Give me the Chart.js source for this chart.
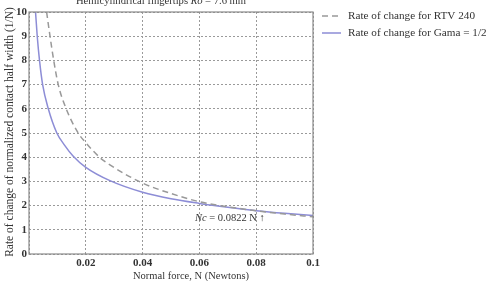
<!DOCTYPE html>
<html>
<head>
<meta charset="utf-8">
<script src="https://cdn.jsdelivr.net/npm/chart.js@4.4.1/dist/chart.umd.min.js"></script>
<style>
html,body{margin:0;padding:0;background:#fff;}
#wrap{position:relative;width:498px;height:281px;}
</style>
</head>
<body>
<div id="wrap"><canvas id="c" width="498" height="281"></canvas></div>
<script>
// Data
const rtvForce = [0.0062, 0.0074, 0.0087, 0.0103, 0.0131, 0.0173, 0.02, 0.025, 0.0285, 0.04, 0.05, 0.06, 0.07, 0.08, 0.09, 0.1];
const rtvRate  = [10, 9, 8, 7, 6, 5, 4.6, 3.98, 3.68, 2.93, 2.5, 2.16, 1.95, 1.79, 1.65, 1.54];
const gamaForce = [0.0023, 0.0029, 0.0037, 0.0048, 0.0068, 0.0098, 0.0125, 0.0155, 0.02, 0.0285, 0.04, 0.05, 0.06, 0.07, 0.08, 0.09, 0.1];
const gamaRate  = [10, 9, 8, 7, 6, 5, 4.5, 4.05, 3.58, 3.03, 2.55, 2.28, 2.09, 1.93, 1.79, 1.68, 1.59];
const seriesNames = ["Rate of change for RTV 240", "Rate of change for Gama = 1/2"];
const xTickValues = [0.02, 0.04, 0.06, 0.08, 0.1];
const yTickValues = [0,1,2,3,4,5,6,7,8,9,10];

const SERIF = "'Liberation Serif','Times New Roman',serif";
const toPts = (xs, ys) => xs.map((x,i)=>({x:x, y:ys[i]}));

const extras = {
  id:'extras',
  afterDraw(chart){
    const ctx = chart.ctx, a = chart.chartArea;
    ctx.save();
    // frame
    ctx.strokeStyle = '#8a8a8a'; ctx.lineWidth = 1.2; ctx.setLineDash([]);
    ctx.strokeRect(a.left, a.top, a.right-a.left, a.bottom-a.top);
    // title with italic Ro
    const parts = [["Hemicylindrical fingertips ", ""], ["Ro", "italic "], [" = 7.6 mm", ""]];
    ctx.fillStyle = '#333'; ctx.textBaseline = 'alphabetic'; ctx.textAlign='left';
    const tf = "10.6px ";
    let widths = parts.map(p=>{ctx.font = p[1]+tf+SERIF; return ctx.measureText(p[0]).width;});
    let total = widths.reduce((s,w)=>s+w,0);
    let x = 161 - total/2;
    parts.forEach((p,i)=>{ctx.font = p[1]+tf+SERIF; ctx.fillText(p[0], x, 4); x += widths[i];});
    // axis titles
    ctx.font = "10.5px "+SERIF; ctx.textAlign='center'; ctx.textBaseline='middle';
    ctx.fillText("Normal force, N (Newtons)", 191, 276);
    ctx.save();
    ctx.translate(10, 132); ctx.rotate(-Math.PI/2);
    ctx.font = "11.5px "+SERIF;
    ctx.fillText("Rate of change of normalized contact half width (1/N)", 0, 0);
    ctx.restore();
    // legend
    ctx.textAlign='left'; ctx.textBaseline='middle'; ctx.font = "11.2px "+SERIF;
    ctx.lineWidth = 1.5;
    ctx.strokeStyle = '#999'; ctx.setLineDash([6,4]);
    ctx.beginPath(); ctx.moveTo(322,16); ctx.lineTo(341,16); ctx.stroke();
    ctx.strokeStyle = '#8d8dd6'; ctx.setLineDash([]);
    ctx.beginPath(); ctx.moveTo(322,33); ctx.lineTo(341,33); ctx.stroke();
    ctx.fillStyle = '#333';
    ctx.fillText(seriesNames[0], 348, 16);
    ctx.fillText(seriesNames[1], 348, 33);
    // annotation
    const ap = [["Nc", "italic "], [" = 0.0822 N ", ""], ["\u2191", "bold "]];
    let ax = 195;
    ctx.textBaseline='middle';
    ap.forEach(p=>{ctx.font = p[1]+"10.5px "+SERIF; ctx.fillText(p[0], ax, 218); ax += ctx.measureText(p[0]).width;});
    ctx.restore();
  }
};

new Chart(document.getElementById('c'), {
  type:'line',
  data:{
    datasets:[
      {label:seriesNames[0], data:toPts(rtvForce, rtvRate), borderColor:'#999', borderWidth:1.5, borderDash:[6,4],
       pointRadius:0, cubicInterpolationMode:'monotone', fill:false},
      {label:seriesNames[1], data:toPts(gamaForce, gamaRate), borderColor:'#8d8dd6', borderWidth:1.5,
       pointRadius:0, cubicInterpolationMode:'monotone', fill:false}
    ]
  },
  options:{
    responsive:false, animation:false, devicePixelRatio:1,
    layout:{padding:{left:0, top:12, right:185, bottom:0}},
    plugins:{legend:{display:false}, tooltip:{enabled:false}, title:{display:false}},
    scales:{
      x:{type:'linear', min:0, max:0.1,
        afterFit(s){ s.height = 27; },
        afterBuildTicks(s){ s.ticks = [0].concat(xTickValues).map(v=>({value:v})); },
        grid:{color:'#9a9a9a', lineWidth:1, drawTicks:false},
        border:{display:false, dash:[2,2]},
        ticks:{padding:3, maxRotation:0, autoSkip:false, color:'#333', font:{family:SERIF, size:11, weight:'bold'},
          callback:(v)=> v===0 ? '' : String(Number(v.toFixed(2)))}
      },
      y:{type:'linear', min:0, max:10,
        afterFit(s){ s.width = 29; },
        afterBuildTicks(s){ s.ticks = yTickValues.map(v=>({value:v})); },
        grid:{color:'#9a9a9a', lineWidth:1, drawTicks:false},
        border:{display:false, dash:[2,2]},
        ticks:{padding:2, autoSkip:false, color:'#333', font:{family:SERIF, size:11, weight:'bold'}}
      }
    }
  },
  plugins:[extras]
});
</script>
</body>
</html>
